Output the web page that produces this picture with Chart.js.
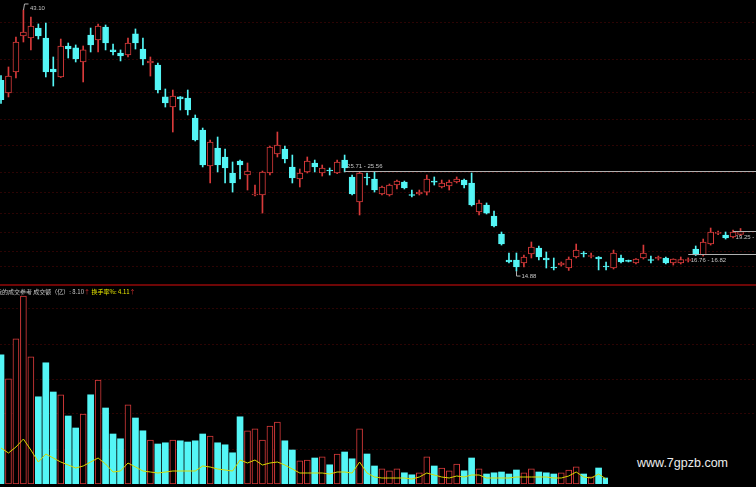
<!DOCTYPE html>
<html><head><meta charset="utf-8">
<script src="https://cdn.jsdelivr.net/npm/chart.js@4.4.1/dist/chart.umd.min.js"></script>
<style>
html,body{margin:0;padding:0;background:#000;width:756px;height:487px;overflow:hidden;position:relative;}
canvas{position:absolute;left:0;}
#price{top:0}
#vol{top:286px}
#sep{position:absolute;left:0;top:284px;width:756px;height:2px;background:#6e0606;}
.lbl{position:absolute;font:6px "Liberation Sans",Arial,sans-serif;color:#c4c4c4;white-space:nowrap;line-height:6px;}
#hdr{position:absolute;left:-4px;top:288px;font:6px "Noto Sans CJK SC",sans-serif;line-height:7px;color:#c8c8c8;white-space:nowrap;}
#hdr .r{color:#e03030}
#hdr .y{color:#e6e600}
#wm{position:absolute;left:608px;top:447px;width:148px;height:40px;background:#000;}
#wm span{position:absolute;left:29px;top:9px;font:12.5px "Liberation Sans",Arial,sans-serif;color:#ececec;}
</style></head>
<body>
<canvas id="price" width="756" height="285"></canvas>
<div id="sep"></div>
<canvas id="vol" width="756" height="201"></canvas>
<div id="hdr"></div>
<div id="wm"><span>www.7gpzb.com</span></div>
<script>
// ---- data ----
const open  = [35.5,34.13,36.40,40.29,40.07,41.15,40.07,36.72,35.86,39.21,39.00,37.48,40.40,39.86,41.26,38.78,38.45,38.24,40.51,38.88,37.37,37.15,33.70,32.61,33.70,33.59,31.42,30.13,26.24,28.18,27.21,25.48,26.78,25.26,23.10,23.10,25.48,27.53,28.07,26.13,24.83,25.59,26.56,25.48,25.80,25.48,26.88,25.05,22.34,25.05,24.83,23.21,23.10,24.18,24.51,23.10,23.21,23.42,24.60,23.97,24.07,24.51,24.72,24.40,21.26,22.02,20.83,18.88,16.07,16.07,15.75,16.72,17.37,16.29,15.32,15.53,15.21,16.40,16.83,16.45,16.40,15.42,15.21,16.29,16.02,15.75,16.29,16.10,16.24,16.29,15.75,15.75,16.02,17.26,16.61,17.80,18.95,18.78,18.56,18.83];
const high  = [36.0,36.94,40.18,43.10,42.34,41.59,41.69,38.02,39.96,39.53,39.32,39.21,41.15,41.59,41.48,39.42,38.78,40.07,41.05,40.07,38.02,37.37,34.56,34.45,33.75,34.45,31.75,30.34,29.05,29.37,28.07,26.67,26.88,26.56,24.18,25.69,28.40,29.91,28.40,27.42,25.91,27.21,26.88,26.34,26.02,26.88,27.42,25.26,25.59,25.48,25.59,24.07,24.29,24.72,24.61,23.64,23.64,25.26,25.05,24.72,24.72,25.05,24.83,25.48,22.56,22.24,21.37,19.10,16.83,16.83,16.61,18.02,17.59,16.94,16.29,15.86,16.40,17.80,16.99,16.83,16.45,15.86,17.15,16.61,16.07,16.24,17.69,16.50,16.50,16.40,16.20,16.40,16.30,17.59,18.34,19.53,19.20,19.10,19.32,19.48];
const low   = [33.0,33.70,35.75,39.64,38.78,39.96,35.86,34.88,35.80,37.91,37.48,35.32,38.56,38.56,38.78,38.24,37.59,38.02,38.88,37.15,35.96,34.13,32.61,29.91,32.29,31.75,28.94,26.13,24.40,25.59,24.40,23.42,24.83,23.64,22.99,21.15,25.26,27.21,26.56,24.40,23.97,25.48,25.59,25.15,25.26,25.40,25.59,23.10,20.94,24.18,23.42,23.10,22.99,23.75,23.75,22.88,23.10,23.10,24.18,23.86,23.64,24.40,23.86,21.91,20.94,21.05,19.64,17.69,15.75,14.88,15.32,16.29,16.07,15.21,15.00,15.42,14.95,16.29,16.40,16.29,15.00,15.00,15.10,15.75,15.86,15.64,16.18,15.75,16.07,15.64,15.53,15.64,15.86,16.56,16.50,17.69,18.80,18.34,18.45,18.72];
const close = [33.4,35.96,39.64,40.72,41.37,40.29,36.40,36.40,39.21,38.88,37.80,38.78,39.32,41.37,39.53,38.60,38.13,39.53,39.53,37.80,37.59,34.45,33.05,33.80,33.50,32.29,29.05,26.34,28.83,26.34,26.02,24.40,26.34,25.69,23.21,25.59,28.29,28.51,26.99,24.94,25.48,26.78,26.13,26.02,25.70,26.67,26.02,23.21,25.48,24.94,23.64,23.97,24.18,24.61,23.86,23.05,23.42,24.83,24.50,24.40,24.51,24.83,24.18,22.02,22.24,21.15,19.75,17.80,15.86,15.32,16.40,17.48,16.40,16.07,15.21,15.75,16.18,17.15,16.72,16.50,16.18,15.32,16.83,15.86,15.92,16.18,16.83,16.02,16.35,15.75,16.18,16.13,16.10,16.61,18.02,19.10,19.05,18.45,19.10,19.15];
// 成交额（亿）; hidden values under the watermark are null
const volume = [32.3,26.3,36.3,47.0,31.8,21.8,30.3,23.0,22.3,17.0,14.0,17.5,22.3,26.0,19.0,12.5,11.3,19.8,16.5,13.3,11.0,10.0,10.3,11.0,10.8,10.5,10.8,12.5,12.0,10.3,9.8,7.8,16.8,13.3,13.8,11.0,14.5,15.5,10.8,8.5,5.8,6.0,6.5,6.8,4.8,7.5,8.0,6.3,13.8,7.5,4.5,3.8,3.3,3.8,2.8,2.3,2.8,6.8,4.5,4.0,3.3,5.0,3.3,6.5,3.8,2.5,2.8,3.0,2.5,3.5,2.8,3.8,3.0,2.8,2.5,2.8,3.5,4.3,2.5,1.8,4.0,1.5,null,null,null,null,null,null,null,null,null,null,null,null,null,null,null,null,null,8.10];
// 换手率%
const turnover = [9.0,7.75,9.25,11.25,8.5,5.5,7.5,6.5,5.5,4.75,4.0,4.5,5.5,6.5,5.0,3.0,3.25,5.25,4.25,3.25,3.0,2.75,3.0,3.25,3.25,3.25,3.25,4.5,4.25,3.75,3.5,3.25,6.0,5.25,6.0,4.75,5.25,5.5,4.75,3.75,2.75,2.75,2.75,2.75,2.5,3.0,3.0,2.75,5.5,2.75,1.75,1.5,1.5,1.5,1.5,1.25,1.75,2.75,2.25,1.75,1.5,2.0,1.75,2.25,2.25,1.5,1.5,1.5,1.5,1.75,1.75,1.75,1.75,1.75,1.5,1.5,2.0,3.0,1.75,1.5,2.5,1.25,null,null,null,null,null,null,null,null,null,null,null,null,null,null,null,null,null,4.11];
const priceGrid = [41.80,37.80,34.13,31.21,28.40,25.48,23.32,21.05,19.0,16.94,15.32];
const volGrid = [8.75,17.5,26.25,35,43.75];
const rangeMarks = [{i:46,a:'25.71',b:'25.56',side:'above'},{i:92,a:'16.76',b:'16.82',side:'below'},{i:98,a:'19.25',b:'',side:'below'}];

// ---- styling ----
const CYAN='#54f6f6', RED='#d83a3a', YEL='#d8d800', GRID='#2c0404';
const isUp = i => close[i] >= open[i];
const xScale = {type:'linear', min:-0.134, max:101.07, offset:false, display:false, grace:0};
const hiIdx = high.indexOf(Math.max(...high));
const loIdx = low.indexOf(Math.min(...low));

const leaders = {
  id:'leaders',
  afterDatasetsDraw(chart){
    const {ctx, chartArea, scales:{x,y}} = chart;
    ctx.save();
    ctx.strokeStyle='#b0b0b0'; ctx.lineWidth=1;
    rangeMarks.forEach(r=>{
      const yy = Math.round(y.getPixelForValue(parseFloat(r.a)))+0.5;
      ctx.beginPath(); ctx.moveTo(x.getPixelForValue(r.i), yy); ctx.lineTo(chartArea.right, yy); ctx.stroke();
    });
    let hx = Math.round(x.getPixelForValue(hiIdx))+0.5, hy = y.getPixelForValue(high[hiIdx]);
    ctx.beginPath(); ctx.moveTo(hx, hy); ctx.lineTo(hx+1, hy-6); ctx.lineTo(hx+5, hy-6); ctx.stroke();
    let lx = Math.round(x.getPixelForValue(loIdx))+0.5, ly = y.getPixelForValue(low[loIdx]);
    ctx.beginPath(); ctx.moveTo(lx, ly); ctx.lineTo(lx, ly+5); ctx.lineTo(lx+4, ly+5); ctx.stroke();
    ctx.restore();
  }
};

const common = {
  responsive:false, animation:false, events:[],
  plugins:{legend:{display:false}, tooltip:{enabled:false}},
};

const pc = new Chart(document.getElementById('price'), {
  type:'bar',
  data:{datasets:[
    {label:'body', data: open.map((o,i)=>({x:i, y:[o, close[i]]})), barThickness:6, grouped:false, minBarLength:1,
     borderSkipped:false, borderWidth:1, clip:false, order:0,
     backgroundColor: c=>isUp(c.dataIndex)?'#000':CYAN, borderColor: c=>isUp(c.dataIndex)?RED:CYAN},
    {label:'wick', data: low.map((l,i)=>({x:i, y:[l, high[i]]})), barThickness:1, grouped:false, borderWidth:0, clip:false, order:1,
     backgroundColor: c=>isUp(c.dataIndex)?RED:CYAN}
  ]},
  options:Object.assign({}, common, {
    layout:{padding:{left:0,right:0,top:0,bottom:1}},
    scales:{
      x: xScale,
      y:{type:'linear', min:13.48, max:44.18, display:true,
         afterBuildTicks: s=>{ s.ticks = priceGrid.map(v=>({value:v})); },
         ticks:{display:false}, grid:{color:GRID, drawTicks:false}, border:{display:false, dash:[2,2]}}
    }
  }),
  plugins:[leaders]
});

const vc = new Chart(document.getElementById('vol'), {
  type:'bar',
  data:{datasets:[
    {type:'line', label:'换手率%', data: turnover.map((t,i)=>({x:i,y:t})), yAxisID:'yT', borderColor:YEL, borderWidth:1,
     pointRadius:0, tension:0, spanGaps:false, order:0},
    {label:'成交额（亿）', data: volume.map((v,i)=>({x:i,y:v})), barThickness:6, grouped:false, borderSkipped:false, order:1,
     borderWidth: c=>isUp(c.dataIndex)?1:0,
     backgroundColor: c=>isUp(c.dataIndex)?'#000':CYAN, borderColor: c=>isUp(c.dataIndex)?RED:CYAN}
  ]},
  options:Object.assign({}, common, {
    layout:{padding:{left:0,right:0,top:0,bottom:3}},
    scales:{
      x: xScale,
      y:{type:'linear', min:0, max:49.5, display:true,
         afterBuildTicks: s=>{ s.ticks = volGrid.map(v=>({value:v})); },
         ticks:{display:false}, grid:{color:GRID, drawTicks:false}, border:{display:false, dash:[2,2]}},
      yT:{type:'linear', min:0, max:49.5, display:false}
    }
  })
});

// ---- text labels ----
function lbl(text, left, top){
  const d=document.createElement('div'); d.className='lbl'; d.textContent=text;
  d.style.left=left+'px'; d.style.top=top+'px'; document.body.appendChild(d);
}
const X=pc.scales.x, Y=pc.scales.y;
lbl(high[hiIdx].toFixed(2), X.getPixelForValue(hiIdx)+6.5, Y.getPixelForValue(high[hiIdx])-5);
lbl(low[loIdx].toFixed(2), X.getPixelForValue(loIdx)+5, Y.getPixelForValue(low[loIdx])+2);
rangeMarks.forEach(r=>{
  const yy = Y.getPixelForValue(parseFloat(r.a));
  lbl(r.a+' - '+r.b, X.getPixelForValue(r.i)+2.5, r.side==='above'? yy-8 : yy+3);
});
const last = volume.length-1;
document.getElementById('hdr').innerHTML =
  '我的成交参考 成交额（亿）: '+volume[last].toFixed(2)+'<span class="r">↑</span> <span class="y">换手率%: '+turnover[last].toFixed(2)+'</span><span class="r">↑</span>';
</script>
</body></html>
